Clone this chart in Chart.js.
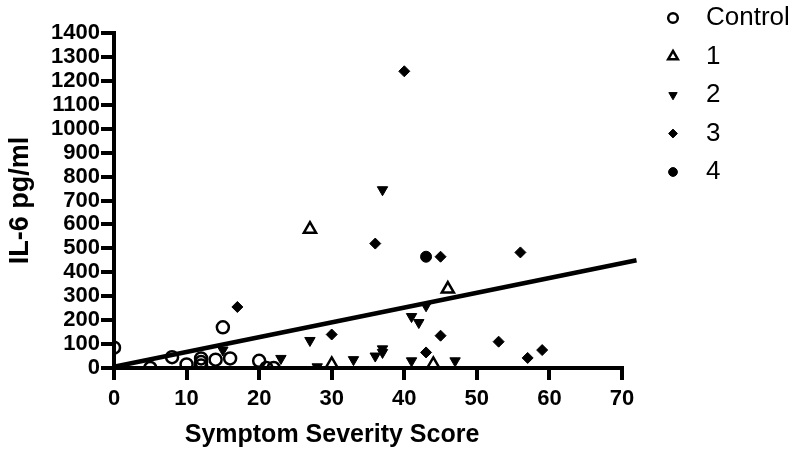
<!DOCTYPE html>
<html>
<head>
<meta charset="utf-8">
<script src="https://cdn.jsdelivr.net/npm/chart.js@4"></script>
<style>
  html, body { margin: 0; padding: 0; background: #fff; }
</style>
</head>
<body>
<canvas id="il6Chart" width="800" height="458"></canvas>
<script>
const FONT = '"Liberation Sans", Arial, sans-serif';

// series
const seriesNames = ["Control", "1", "2", "3", "4"];

const controlX = [0, 5, 8, 10, 12, 12, 12, 14, 15, 16, 20, 21, 22];
const controlY = [85, 0, 45, 15, 40, 25, 10, 35, 170, 40, 30, 0, 0];

const group1X = [27, 46, 30, 44];
const group1Y = [580, 330, 15, 15];

const group2X = [37, 15, 23, 27, 28, 33, 36, 37, 37, 41, 42, 41, 47, 43];
const group2Y = [745, 75, 40, 115, 5, 35, 50, 65, 80, 215, 190, 30, 30, 260];

const group3X = [40, 36, 45, 56, 17, 30, 45, 43, 53, 57, 59];
const group3Y = [1240, 520, 465, 483, 255, 140, 135, 65, 110, 42, 75];

const group4X = [43];
const group4Y = [465];

// regression line end points
const fitX = [0, 72];
const fitY = [5, 450];

const xTicks = [0, 10, 20, 30, 40, 50, 60, 70];
const yTicks = [0, 100, 200, 300, 400, 500, 600, 700, 800, 900, 1000, 1100, 1200, 1300, 1400];

function pts(xs, ys) {
  return xs.map((x, i) => ({ x: x, y: ys[i] }));
}

const markers = [
  { pointStyle: "circle", radius: 6, fill: "rgba(0,0,0,0)", border: 2.5, rotation: 0 },
  { pointStyle: "triangle", radius: 7, fill: "rgba(0,0,0,0)", border: 2.5, rotation: 0 },
  { pointStyle: "triangle", radius: 6, fill: "#000", border: 1, rotation: 180 },
  { pointStyle: "rectRot", radius: 5.5, fill: "#000", border: 1, rotation: 0 },
  { pointStyle: "circle", radius: 5.5, fill: "#000", border: 1, rotation: 0 }
];

const seriesData = [
  pts(controlX, controlY),
  pts(group1X, group1Y),
  pts(group2X, group2Y),
  pts(group3X, group3Y),
  pts(group4X, group4Y)
];

const datasets = seriesData.map((d, i) => ({
  label: seriesNames[i],
  data: d,
  pointStyle: markers[i].pointStyle,
  pointRadius: markers[i].radius,
  pointRotation: markers[i].rotation,
  pointBackgroundColor: markers[i].fill,
  pointBorderColor: "#000",
  pointBorderWidth: markers[i].border,
  showLine: false
}));

datasets.push({
  type: "line",
  label: "fit",
  data: pts(fitX, fitY),
  borderColor: "#000",
  borderWidth: 4.5,
  pointRadius: 0,
  fill: false,
  clip: false
});

// legend drawn on the right like the original figure
const sideLegend = {
  id: "sideLegend",
  afterDraw(chart) {
    const ctx = chart.ctx;
    const right = chart.chartArea.right;
    ctx.save();
    for (let i = 0; i < seriesNames.length; i++) {
      const y = 18 + i * 38.5;
      const m = markers[i];
      ctx.fillStyle = m.fill;
      ctx.strokeStyle = "#000";
      ctx.lineWidth = m.border;
      Chart.helpers.drawPoint(ctx, {
        pointStyle: m.pointStyle,
        rotation: m.rotation,
        radius: m.radius * 0.8,
        borderWidth: m.border
      }, right + 51, y);
      ctx.fillStyle = "#000";
      ctx.font = "26px " + FONT;
      ctx.textBaseline = "middle";
      ctx.textAlign = "left";
      ctx.fillText(seriesNames[i], right + 84, y);
    }
    ctx.restore();
  }
};

const xTitle = {
  id: "xTitle",
  afterDraw(chart) {
    const ctx = chart.ctx;
    ctx.save();
    ctx.fillStyle = "#000";
    ctx.font = "bold 25px " + FONT;
    ctx.textAlign = "center";
    ctx.textBaseline = "middle";
    ctx.fillText("Symptom Severity Score", chart.chartArea.left + 218, 435);
    ctx.restore();
  }
};

const ctx = document.getElementById("il6Chart").getContext("2d");

new Chart(ctx, {
  type: "scatter",
  data: { datasets: datasets },
  options: {
    responsive: false,
    animation: false,
    layout: { padding: { top: 33, right: 178, bottom: 0, left: 0 } },
    plugins: {
      legend: { display: false },
      tooltip: { enabled: false }
    },
    scales: {
      x: {
        type: "linear",
        min: 0,
        max: 70,
        afterBuildTicks: s => { s.ticks = xTicks.map(v => ({ value: v })); },
        afterFit: s => { s.height = 90; },
        grid: { drawOnChartArea: false, drawTicks: true, tickLength: 12, lineWidth: 4, color: "#000" },
        border: { display: true, color: "#000", width: 4 },
        ticks: { color: "#000", padding: 6, autoSkip: false, maxRotation: 0, callback: v => String(v), font: { family: FONT, size: 22, weight: "bold" } }
      },
      y: {
        type: "linear",
        min: 0,
        max: 1400,
        afterBuildTicks: s => { s.ticks = yTicks.map(v => ({ value: v })); },
        afterFit: s => { s.width = 114; },
        grid: { drawOnChartArea: false, drawTicks: true, tickLength: 13, lineWidth: 4, color: "#000" },
        border: { display: true, color: "#000", width: 4 },
        ticks: { color: "#000", padding: 1, autoSkip: false, callback: v => String(v), font: { family: FONT, size: 22, weight: "bold" } },
        title: {
          display: true,
          text: "IL-6 pg/ml",
          color: "#000",
          padding: 4,
          font: { family: FONT, size: 27, weight: "bold" }
        }
      }
    }
  },
  plugins: [sideLegend, xTitle]
});
</script>
</body>
</html>
